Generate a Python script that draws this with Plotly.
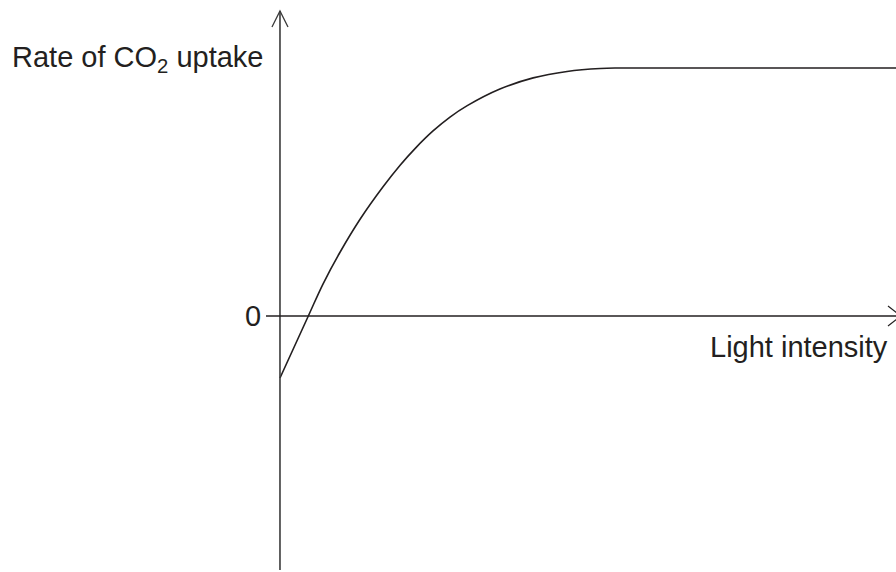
import plotly.graph_objects as go

# light intensity (arbitrary units) and rate of CO2 uptake
light = [0, 0.46, 0.7, 0.97, 1.3, 1.67, 1.95, 2.2, 2.48, 2.76, 3.04, 3.57, 4.11, 4.66, 5.2, 5.52, 10]
rate = [-2.5, 0, 1.3, 2.55, 3.9, 5.2, 6.08, 6.77, 7.45, 8.02, 8.48, 9.15, 9.6, 9.86, 9.98, 10, 10]

W, H = 896, 572
x_range = [-4.545, 10]
y_range = [-10.32, 12.74]
ink = "#231f20"

fig = go.Figure()
fig.add_trace(go.Scatter(x=light, y=rate, mode="lines",
                         line=dict(color=ink, width=1.6, shape="spline", smoothing=1),
                         hoverinfo="skip", showlegend=False))

# axes drawn by hand, with open arrow heads
axis_col = "#3a3a3a"
fig.add_shape(type="line", x0=0, x1=0, y0=-10.24, y1=12.3, line=dict(color=axis_col, width=1.6))
fig.add_shape(type="path", path="M -0.13 11.65 L 0 12.3 L 0.13 11.65", line=dict(color=axis_col, width=1.3))
fig.add_shape(type="line", x0=-0.227, x1=10.08, y0=0, y1=0, line=dict(color=ink, width=1.4))
fig.add_shape(type="path", path="M 9.87 0.4 L 10.08 0 L 9.87 -0.4", line=dict(color=ink, width=1.2))

font = dict(family="Liberation Sans, Arial, sans-serif", size=29, color=ink)
fig.add_annotation(text="Rate of CO<sub>2</sub> uptake", xref="paper", yref="paper",
                   x=10 / W, y=1 - 59 / H, xanchor="left", yanchor="middle", showarrow=False, font=font)
fig.add_annotation(text="0", x=-0.27, y=0, xanchor="right", yanchor="middle", showarrow=False, font=font)
fig.add_annotation(text="Light intensity", xref="paper", yref="paper",
                   x=890 / W, y=1 - 347 / H, xanchor="right", yanchor="middle", showarrow=False, font=font)

fig.update_xaxes(range=x_range, visible=False)
fig.update_yaxes(range=y_range, visible=False)
fig.update_layout(width=W, height=H, margin=dict(l=0, r=0, t=0, b=0),
                  plot_bgcolor="white", paper_bgcolor="white")

fig.write_html("out.html", config={"displayModeBar": False},
               post_script="document.body.style.margin='0';document.body.style.overflow='hidden';")
